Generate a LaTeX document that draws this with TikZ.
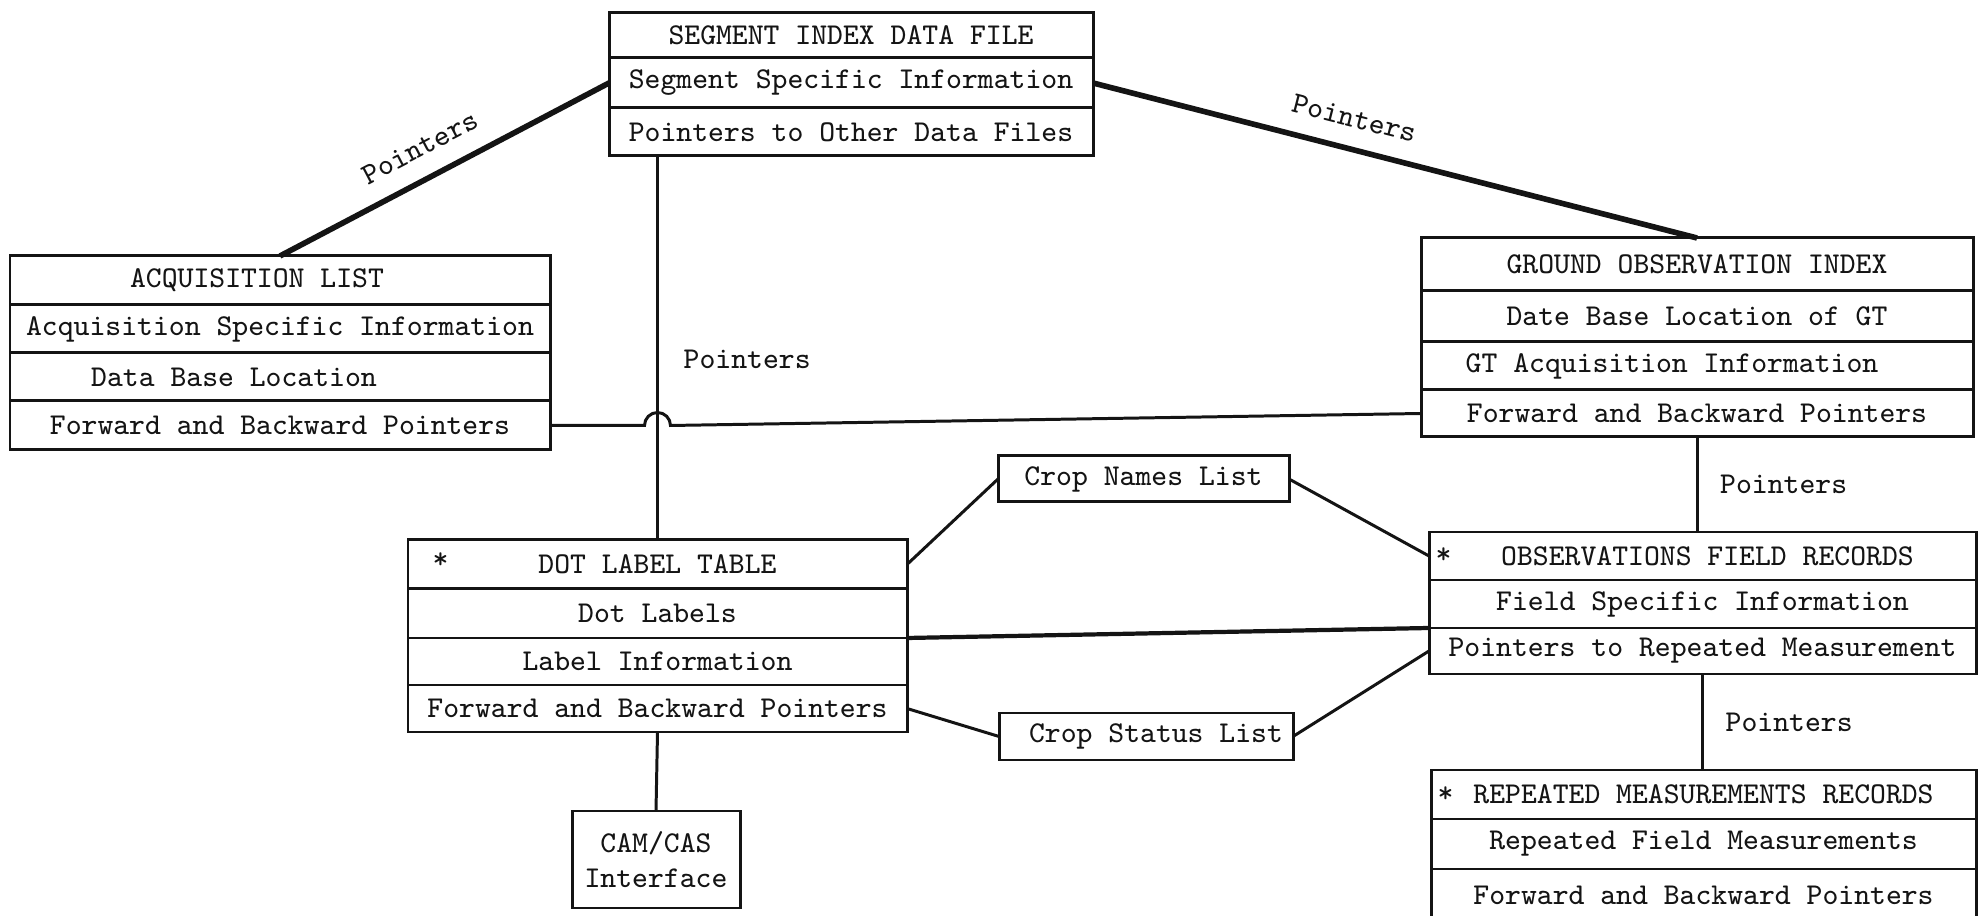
\documentclass[tikz,border=0pt]{standalone}
\usepackage{tikz}
\usetikzlibrary{positioning,calc}
\usepackage{xcolor}
\definecolor{ink}{RGB}{20,20,20}
\newcommand{\boxfont}{\ttfamily\fontsize{8.6}{10}\selectfont}

\begin{document}
\begin{tikzpicture}[
    tabrow/.style={draw=ink,line width=0.85pt,outer sep=0pt,inner sep=0pt,font=\boxfont,text=ink},
    link/.style={draw=ink,line width=0.85pt},
    midlink/.style={draw=ink,line width=1.2pt},
    heavy/.style={draw=ink,line width=1.6pt},
    astk/.style={font=\boxfont,text=ink,inner sep=0pt,anchor=west},
    ptr/.style={font=\boxfont,text=ink}]
  \useasboundingbox (0,0) rectangle (19.86,-9.16);
  % Segment index data file
  \node[tabrow,minimum width=4.84cm,minimum height=0.45cm,anchor=north west] (seg1) at (6.09,-0.13) {SEGMENT INDEX DATA FILE};
  \node[tabrow,minimum width=4.84cm,minimum height=0.50cm,below=0pt of seg1] (seg2) {Segment Specific Information};
  \node[tabrow,minimum width=4.84cm,minimum height=0.48cm,below=0pt of seg2] (seg3) {Pointers to Other Data Files};
  % Acquisition list
  \node[tabrow,minimum width=5.40cm,minimum height=0.49cm,anchor=north west] (acq1) at (0.10,-2.56) {\hspace*{-0.46cm}ACQUISITION LIST};
  \node[tabrow,minimum width=5.40cm,minimum height=0.48cm,below=0pt of acq1] (acq2) {Acquisition Specific Information};
  \node[tabrow,minimum width=5.40cm,minimum height=0.48cm,below=0pt of acq2] (acq3) {\hspace*{-0.92cm}Data Base Location};
  \node[tabrow,minimum width=5.40cm,minimum height=0.49cm,below=0pt of acq3] (acq4) {Forward and Backward Pointers};
  % Ground observation index
  \node[tabrow,minimum width=5.52cm,minimum height=0.53cm,anchor=north west] (gro1) at (14.21,-2.38) {GROUND OBSERVATION INDEX};
  \node[tabrow,minimum width=5.52cm,minimum height=0.51cm,below=0pt of gro1] (gro2) {Date Base Location of GT};
  \node[tabrow,minimum width=5.52cm,minimum height=0.48cm,below=0pt of gro2] (gro3) {\hspace*{-0.5cm}GT Acquisition Information};
  \node[tabrow,minimum width=5.52cm,minimum height=0.47cm,below=0pt of gro3] (gro4) {Forward and Backward Pointers};
  % Observations field records
  \node[tabrow,minimum width=5.47cm,minimum height=0.48cm,anchor=north west] (obs1) at (14.29,-5.32) {\hspace*{0.1cm}OBSERVATIONS FIELD RECORDS};
  \node[tabrow,minimum width=5.47cm,minimum height=0.48cm,below=0pt of obs1] (obs2) {Field Specific Information};
  \node[tabrow,minimum width=5.47cm,minimum height=0.46cm,below=0pt of obs2] (obs3) {Pointers to Repeated Measurement};
  \node[astk,right=0.06cm of obs1.west] (obsstar) {*};
  % Repeated measurements records
  \node[tabrow,minimum width=5.45cm,minimum height=0.49cm,anchor=north west] (rep1) at (14.31,-7.70) {REPEATED MEASUREMENTS RECORDS};
  \node[tabrow,minimum width=5.45cm,minimum height=0.50cm,below=0pt of rep1] (rep2) {Repeated Field Measurements};
  \node[tabrow,minimum width=5.45cm,minimum height=0.52cm,below=0pt of rep2] (rep3) {Forward and Backward Pointers};
  \node[astk,right=0.06cm of rep1.west] (repstar) {*};
  % Dot label table
  \node[tabrow,minimum width=4.99cm,minimum height=0.49cm,anchor=north west] (dot1) at (4.08,-5.40) {DOT LABEL TABLE};
  \node[tabrow,minimum width=4.99cm,minimum height=0.49cm,below=0pt of dot1] (dot2) {Dot Labels};
  \node[tabrow,minimum width=4.99cm,minimum height=0.47cm,below=0pt of dot2] (dot3) {Label Information};
  \node[tabrow,minimum width=4.99cm,minimum height=0.47cm,below=0pt of dot3] (dot4) {Forward and Backward Pointers};
  \node[astk,right=0.24cm of dot1.west,yshift=0.04cm] (dotstar) {*};
  % Crop lists and interface
  \node[tabrow,minimum width=2.91cm,minimum height=0.46cm,anchor=north west] (cropn) at (9.98,-4.56) {Crop Names List};
  \node[tabrow,minimum width=2.94cm,minimum height=0.47cm,anchor=north west] (crops) at (9.99,-7.13) {\hspace*{0.2cm}Crop Status List};
  \node[tabrow,minimum width=1.68cm,minimum height=0.97cm,anchor=north west,align=center] (cam) at (5.72,-8.11) {CAM/CAS\\Interface};
  % Pointers
  \draw[heavy] (acq1.north) -- node[ptr,pos=0.47,above=2pt,sloped] (pacq) {Pointers} (seg2.west);
  \draw[heavy] (seg2.east) -- node[ptr,pos=0.42,above=2pt,sloped] (pgro) {Pointers} (gro1.north);
  \draw[link] (dot1.north) -- node[ptr,pos=0.47,right=0.13cm] (pdot) {Pointers} (dot1.north |- seg3.south);
  \draw[link] (gro4.south) -- node[ptr,midway,right=0.1cm] (pobs) {Pointers} (gro4.south |- obs1.north);
  \draw[link] (obs3.south) -- node[ptr,midway,right=0.1cm] (prep) {Pointers} (obs3.south |- rep1.north);
  % Hop over the vertical line
  \coordinate (hopl) at ($(dot1.north)+(-0.13,0)$);
  \draw[link] (acq4.east) -- (acq4.east -| hopl) arc[start angle=180,end angle=0,radius=0.13] -- (gro4.west);
  % Crop links
  \draw[link] (dot1.east) -- (cropn.west);
  \draw[link] (cropn.east) -- (obs1.west);
  \draw[midlink] (dot2.south east) -- (obs2.south west);
  \draw[link] (dot4.east) -- (crops.west);
  \draw[link] (crops.east) -- (obs3.west);
  \draw[link] (dot4.south) -- (cam.north);
\end{tikzpicture}
\end{document}
